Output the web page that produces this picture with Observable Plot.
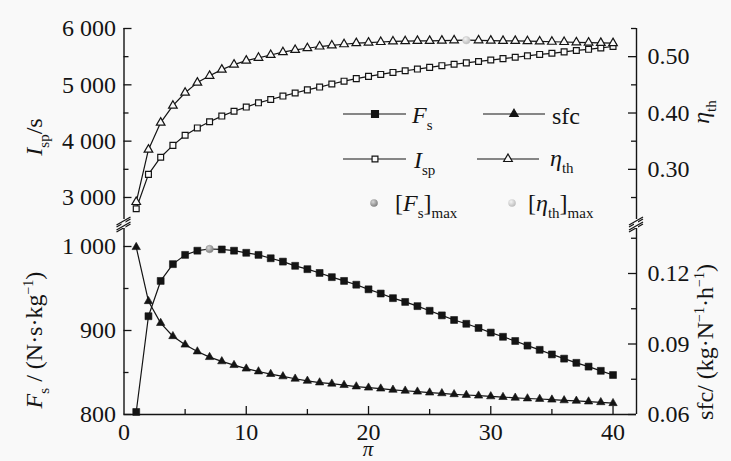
<!DOCTYPE html>
<html><head><meta charset="utf-8">
<script src="https://cdn.jsdelivr.net/npm/d3@7"></script>
<script src="https://cdn.jsdelivr.net/npm/@observablehq/plot@0.6"></script>
<style>
html,body{margin:0;padding:0;background:#f9f9f9;}
#wrap{position:relative;width:731px;height:461px;overflow:hidden;}
#wrap > svg{position:absolute;left:0;top:0;}
</style></head><body><div id="wrap"></div>
<script>
// ---- data ----
const pressureRatio = [1,2,3,4,5,6,7,8,9,10,11,12,13,14,15,16,17,18,19,20,21,22,23,24,25,26,27,28,29,30,31,32,33,34,35,36,37,38,39,40];
const specificThrust = [803,917,959,979,990,995,997,996.5,995,992.5,990,986,982,977,973,968.5,963.5,959,954.5,949,944,938.5,934,929,923.5,918,912.5,908,903,897.5,892.5,887.5,882,877,871.5,866.5,861.5,857,852,847];
const sfcValues = [0.1312,0.1082,0.0989,0.0933,0.0897,0.0868,0.0844,0.0826,0.0810,0.0795,0.0783,0.0772,0.0762,0.0752,0.0743,0.0736,0.0731,0.0725,0.0719,0.0714,0.0710,0.0705,0.0701,0.0697,0.0693,0.0690,0.0686,0.0683,0.0680,0.0677,0.0674,0.0671,0.0668,0.0666,0.0663,0.0660,0.0658,0.0655,0.0652,0.0648];
const specificImpulse = [2800,3410,3715,3925,4105,4235,4345,4445,4530,4605,4680,4740,4800,4855,4910,4960,5015,5065,5110,5150,5185,5220,5250,5280,5310,5340,5365,5390,5415,5440,5465,5490,5515,5540,5560,5585,5610,5630,5655,5680];
const thermalEff = [0.242,0.335,0.383,0.413,0.436,0.454,0.466,0.477,0.486,0.493,0.498,0.503,0.508,0.512,0.515,0.518,0.520,0.522,0.524,0.525,0.526,0.527,0.5275,0.528,0.528,0.5285,0.529,0.5292,0.529,0.5285,0.528,0.528,0.5275,0.527,0.5265,0.526,0.5255,0.525,0.5245,0.524];

const xTicks = [0,10,20,30,40];
const xMinor = [5,15,25,35];
const ispTicks = [3000,4000,5000,6000];
const ispMinor = [3500,4500,5500];
const etaTicks = [0.30,0.40,0.50];
const etaMinor = [0.25,0.35,0.45,0.55];
const fsTicks = [800,900,1000];
const fsMinor = [850,950];
const sfcTicks = [0.06,0.09,0.12];
const sfcMinor = [0.075,0.105,0.135];

// ---- layout ----
const W = 731, H = 461;
const ML = 123.5, MR = 95;
const X_MAX = 41.92;
const FW = W - ML - MR;
const TOP = {mt: 28, mb: 242};
const BOT = {mt: 226, mb: 47};
const FH_B = H - BOT.mt - BOT.mb;
const FONT = '"Liberation Serif","Times New Roman",serif';
const INK = "#141414";
const BG = "#f9f9f9";

const rows = pressureRatio.map((p, i) => ({p, fs: specificThrust[i], sfc: sfcValues[i], isp: specificImpulse[i], eta: thermalEff[i]}));
const fsMaxRow = rows[d3.maxIndex(rows, d => d.fs)];
const etaMaxRow = rows[d3.maxIndex(rows, d => d.eta)];
const spaced = d => d3.format(",")(d).replace(/,/g, " ");

const wrap = d3.select("#wrap");

// gradient defs for the maximum markers
const defs = wrap.append("svg").attr("width", 0).attr("height", 0).append("defs");
function grad(id, c0, c1) {
  const g = defs.append("radialGradient").attr("id", id).attr("cx", "38%").attr("cy", "35%").attr("r", "65%");
  g.append("stop").attr("offset", "0%").attr("stop-color", c0);
  g.append("stop").attr("offset", "100%").attr("stop-color", c1);
}
grad("gFs", "#d6d6d6", "#7f7f7f");
grad("gEta", "#f4f4f4", "#bdbdbd");

function panel(m, yOpts, marks, xOpts = {axis: null}) {
  const svg = Plot.plot({
    width: W, height: H, marginLeft: ML, marginRight: MR, marginTop: m.mt, marginBottom: m.mb,
    x: {domain: [0, X_MAX], ...xOpts},
    y: yOpts,
    style: {background: "transparent", fontFamily: FONT, fontSize: "24px", color: INK, overflow: "visible"},
    marks
  });
  wrap.node().appendChild(svg);
  return svg;
}

const leftMajor = (v) => Plot.tickY(v, {y: d => d, insetRight: FW - 8, stroke: INK, strokeWidth: 1.3});
const leftMinor = (v) => Plot.tickY(v, {y: d => d, insetRight: FW - 5, stroke: INK, strokeWidth: 1.3});
const rightMajor = (v) => Plot.tickY(v, {y: d => d, insetLeft: FW - 8, stroke: INK, strokeWidth: 1.3});
const rightMinor = (v) => Plot.tickY(v, {y: d => d, insetLeft: FW - 5, stroke: INK, strokeWidth: 1.3});

// top panel, left: specific impulse
panel(TOP, {domain: [2609, 6000], ticks: ispTicks, tickFormat: spaced, tickSize: 0, tickPadding: 8, label: null}, [
  Plot.ruleX([0], {stroke: INK, strokeWidth: 1.4}),
  leftMajor(ispTicks), leftMinor(ispMinor),
  Plot.line(rows, {x: "p", y: "isp", stroke: INK, strokeWidth: 1.2}),
  Plot.dot(rows, {x: "p", y: "isp", symbol: "square", r: 3.3, fill: BG, stroke: INK, strokeWidth: 1.2})
]);

// top panel, right: thermal efficiency
panel(TOP, {domain: [0.211, 0.55], axis: "right", ticks: etaTicks, tickFormat: d3.format(".2f"), tickSize: 0, tickPadding: 11, label: null}, [
  Plot.ruleX([X_MAX], {stroke: INK, strokeWidth: 1.4}),
  rightMajor(etaTicks), rightMinor(etaMinor),
  Plot.line(rows, {x: "p", y: "eta", stroke: INK, strokeWidth: 1.2}),
  Plot.dot(rows, {filter: d => d !== etaMaxRow, x: "p", y: "eta", symbol: "triangle", r: 3.2, fill: BG, stroke: INK, strokeWidth: 1.2}),
  Plot.dot([etaMaxRow], {x: "p", y: "eta", r: 3.8, fill: "url(#gEta)", stroke: "#c8c8c8", strokeWidth: 0.5})
]);

// bottom panel, left: specific thrust
panel(BOT, {domain: [800, 1023.8], ticks: fsTicks, tickFormat: spaced, tickSize: 0, tickPadding: 8, label: null}, [
  Plot.ruleX([0], {stroke: INK, strokeWidth: 1.4}),
  Plot.ruleY([800], {stroke: INK, strokeWidth: 1.4}),
  leftMajor(fsTicks), leftMinor(fsMinor),
  Plot.tickX(xTicks.slice(1), {x: d => d, insetTop: FH_B - 8, stroke: INK, strokeWidth: 1.3}),
  Plot.tickX(xMinor, {x: d => d, insetTop: FH_B - 5, stroke: INK, strokeWidth: 1.3}),
  Plot.line(rows, {x: "p", y: "fs", stroke: INK, strokeWidth: 1.2}),
  Plot.dot(rows, {filter: d => d !== fsMaxRow, x: "p", y: "fs", symbol: "square", r: 3.9, fill: INK, stroke: INK, strokeWidth: 0.6}),
  Plot.dot([fsMaxRow], {x: "p", y: "fs", r: 3.8, fill: "url(#gFs)", stroke: "#909090", strokeWidth: 0.5})
], {axis: "bottom", ticks: xTicks, tickSize: 0, tickPadding: 8, label: null});

// bottom panel, right: specific fuel consumption
panel(BOT, {domain: [0.06, 0.14], axis: "right", ticks: sfcTicks, tickFormat: d3.format(".2f"), tickSize: 0, tickPadding: 11, label: null}, [
  Plot.ruleX([X_MAX], {stroke: INK, strokeWidth: 1.4}),
  rightMajor(sfcTicks), rightMinor(sfcMinor),
  Plot.line(rows, {x: "p", y: "sfc", stroke: INK, strokeWidth: 1.2}),
  Plot.dot(rows, {x: "p", y: "sfc", symbol: "triangle", r: 3.1, fill: INK, stroke: INK, strokeWidth: 0.6})
]);

// ---- overlay: titles, legend, axis breaks ----
const ov = wrap.append("svg").attr("width", W).attr("height", H)
  .style("font-family", FONT).style("font-size", "24px").attr("fill", INK);

function rich(sel, parts) {
  let shift = 0;
  parts.forEach(pt => {
    const s = sel.append("tspan").text(pt.t);
    let target = 0;
    if (pt.sub) { s.attr("font-size", 15); target = 7; }
    if (pt.sup) { s.attr("font-size", 14); target = -9; }
    if (pt.i) s.attr("font-style", "italic");
    if (target !== shift) { s.attr("dy", target - shift); shift = target; }
  });
  return sel;
}
function text(x, y, parts, anchor = "start", size) {
  const t = ov.append("text").attr("x", x).attr("y", y).attr("text-anchor", anchor);
  if (size) t.attr("font-size", size);
  return rich(t, parts);
}
function vtext(x, y, parts) {
  return rich(ov.append("text").attr("transform", `translate(${x},${y}) rotate(-90)`).attr("text-anchor", "middle"), parts);
}

vtext(42, 137, [{t: "I", i: true}, {t: "sp", sub: true}, {t: "/s"}]);
vtext(42, 340, [{t: "F", i: true}, {t: "s", sub: true}, {t: " / (N·s·kg"}, {t: "−1", sup: true}, {t: ")"}]);
vtext(709, 112, [{t: "η", i: true}, {t: "th", sub: true}]);
vtext(713, 342, [{t: "sfc/ (kg·N"}, {t: "−1", sup: true}, {t: "·h"}, {t: "−1", sup: true}, {t: ")"}]);
text(368, 456, [{t: "π", i: true}], "middle", 21);

// axis breaks
function brk(x) {
  [[0], [5]].forEach(([o]) => {
    ov.append("line").attr("x1", x - 7).attr("y1", 227 + o).attr("x2", x + 7).attr("y2", 219 + o)
      .attr("stroke", INK).attr("stroke-width", 1.3);
  });
  ov.append("rect").attr("x", x - 2).attr("y", 221).attr("width", 4).attr("height", 7).attr("fill", BG);
  [[0], [5]].forEach(([o]) => {
    ov.append("line").attr("x1", x - 7).attr("y1", 225 + o).attr("x2", x + 7).attr("y2", 217 + o)
      .attr("stroke", INK).attr("stroke-width", 1.3);
  });
}
brk(ML); brk(W - MR);

// legend
function seg(x1, x2, y) { ov.append("line").attr("x1", x1).attr("x2", x2).attr("y1", y).attr("y2", y).attr("stroke", INK).attr("stroke-width", 1.2); }
function sym(type, r, x, y, fill) {
  ov.append("path").attr("d", d3.symbol(type, Math.PI * r * r)()).attr("transform", `translate(${x},${y})`)
    .attr("fill", fill).attr("stroke", INK).attr("stroke-width", 1.2);
}
seg(343, 406, 114); sym(d3.symbolSquare, 3.9, 375, 114, INK);
text(412, 123, [{t: "F", i: true}, {t: "s", sub: true}]);
seg(483, 545, 114); sym(d3.symbolTriangle, 3.1, 514, 114, INK);
text(552, 124, [{t: "sfc"}]);
seg(343, 406, 159); sym(d3.symbolSquare, 3.3, 375, 159, BG);
text(414, 168, [{t: "I", i: true}, {t: "sp", sub: true}]);
seg(477, 539, 159); sym(d3.symbolTriangle, 3.2, 508, 159, BG);
text(550, 166, [{t: "η", i: true}, {t: "th", sub: true}]);
ov.append("circle").attr("cx", 374).attr("cy", 203).attr("r", 3.8).attr("fill", "url(#gFs)");
text(395, 211, [{t: "["}, {t: "F", i: true}, {t: "s", sub: true}, {t: "]"}, {t: "max", sub: true}]);
ov.append("circle").attr("cx", 512).attr("cy", 203).attr("r", 3.8).attr("fill", "url(#gEta)");
text(528, 211, [{t: "["}, {t: "η", i: true}, {t: "th", sub: true}, {t: "]"}, {t: "max", sub: true}]);
</script></body></html>
